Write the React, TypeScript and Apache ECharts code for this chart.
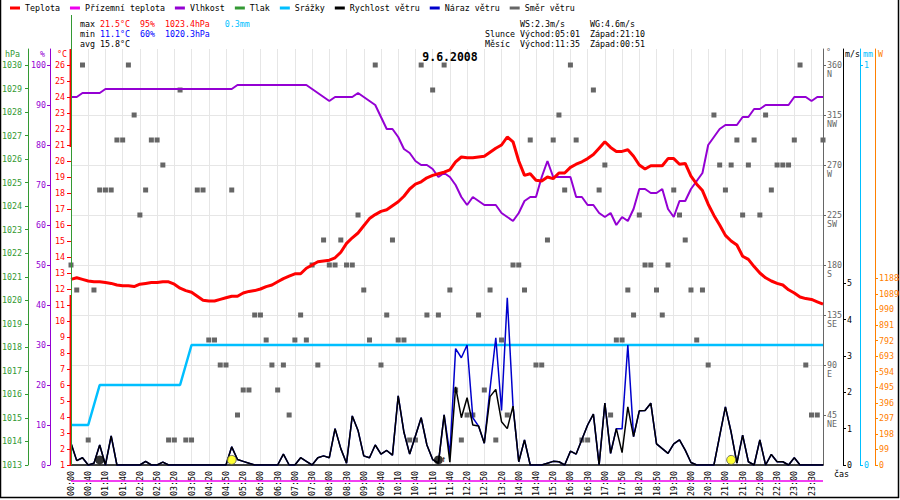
import React, { useEffect, useRef } from "react";
import * as echarts from "echarts";

const FONT = '"DejaVu Sans Mono", monospace';
const FS = 8.3;

const C_TEMP = "#ff0000";
const C_GROUND = "#ee00ee";
const C_HUM = "#9400d3";
const C_PRESS = "#339933";
const C_RAIN = "#00bfff";
const C_WIND = "#000000";
const C_GUST = "#0000cc";
const C_DIR = "#666666";
const C_SOLAR = "#ff8000";
const C_GRID = "#e6e6e6";

const times = [
  "00:00","00:10","00:20","00:40","00:50","01:00","01:10","01:20","01:30","01:40","01:50","02:00",
  "02:20","02:30","02:40","02:50","03:00","03:10","03:20","03:30","03:40","03:50","04:00","04:10",
  "04:20","04:30","04:40","04:50","05:00","05:10","05:20","05:30","05:40","06:00","06:10","06:20",
  "06:30","06:40","06:50","07:00","07:10","07:20","07:30","07:40","07:50","08:00","08:10","08:20",
  "08:30","08:40","08:50","09:00","09:10","09:20","09:40","09:50","10:00","10:10","10:20","10:30",
  "10:40","10:50","11:00","11:10","11:20","11:30","11:40","11:50","12:00","12:20","12:30","12:40",
  "12:50","13:00","13:10","13:20","13:30","13:40","14:00","14:10","14:20","14:40","14:50","15:00",
  "15:20","15:30","15:40","16:00","16:10","16:20","16:30","16:40","16:50","17:00","17:10","17:20",
  "17:50","18:00","18:10","18:20","18:30","18:40","18:50","19:00","19:10","19:30","19:40","19:50",
  "20:00","20:10","20:20","20:30","20:40","20:50","21:00","21:10","21:20","21:30","21:40","21:50",
  "22:00","22:10","22:20","22:30","22:40","22:50","23:00","23:10","23:20","23:30","23:40","23:50"
];

const temperature = [
  12.6, 12.7, 12.6, 12.5, 12.45, 12.45, 12.4, 12.35, 12.25, 12.2,
  12.2, 12.15, 12.3, 12.35, 12.4, 12.4, 12.45, 12.45, 12.3, 12.05,
  11.9, 11.8, 11.55, 11.3, 11.25, 11.25, 11.35, 11.45, 11.55, 11.55,
  11.75, 11.85, 11.9, 12.0, 12.15, 12.25, 12.45, 12.65, 12.8, 12.95,
  12.95, 13.3, 13.5, 13.7, 13.75, 13.8, 13.95, 14.3, 14.85, 15.2,
  15.5, 15.95, 16.4, 16.65, 16.85, 16.95, 17.2, 17.45, 17.8, 18.25,
  18.55, 18.7, 18.95, 19.1, 19.2, 19.3, 19.45, 19.95, 20.25, 20.2,
  20.2, 20.25, 20.3, 20.55, 20.8, 21.0, 21.5, 21.2, 20.0, 19.1,
  19.2, 18.8, 18.75, 19.0, 18.9, 19.25, 19.25, 19.6, 19.8, 19.95,
  20.15, 20.4, 20.8, 21.2, 20.85, 20.6, 20.6, 20.7, 20.3, 19.75,
  19.5, 19.7, 19.7, 19.7, 20.15, 20.15, 19.8, 19.85, 19.05, 18.55,
  18.15, 17.3, 16.6, 16.0, 15.35, 15.0, 14.75, 14.05, 13.85, 13.4,
  13.0, 12.7, 12.5, 12.35, 12.25, 11.95, 11.75, 11.5, 11.4, 11.35,
  11.2, 11.05
];

const groundTemp = [
  0, 0, 0, 0, 0, 0, 0, 0, 0, 0, 0, 0, 0, 0, 0, 0, 0, 0, 0, 0, 0, 0,
  0, 0, 0, 0, 0, 0, 0, 0, 0, 0, 0, 0, 0, 0, 0, 0, 0, 0, 0, 0, 0, 0,
  0, 0, 0, 0, 0, 0, 0, 0, 0, 0, 0, 0, 0, 0, 0, 0, 0, 0, 0, 0, 0, 0,
  0, 0, 0, 0, 0, 0, 0, 0, 0, 0, 0, 0, 0, 0, 0, 0, 0, 0, 0, 0, 0, 0,
  0, 0, 0, 0, 0, 0, 0, 0, 0, 0, 0, 0, 0, 0, 0, 0, 0, 0, 0, 0, 0, 0,
  0, 0, 0, 0, 0, 0, 0, 0, 0, 0, 0, 0, 0, 0, 0, 0, 0, 0, 0, 0, 0, 0
];

const humidity = [
  92, 92, 93, 93, 93, 93, 94, 94, 94, 94,
  94, 94, 94, 94, 94, 94, 94, 94, 94, 94,
  94, 94, 94, 94, 94, 94, 94, 94, 94, 95,
  95, 95, 95, 95, 95, 95, 95, 95, 95, 95,
  95, 95, 94, 93, 92, 91, 92, 92, 92, 92,
  93, 92, 91, 90, 87, 84, 84, 82, 79, 78,
  76, 75, 75, 74, 72, 73, 72, 70, 67, 65,
  67, 66, 65, 65, 65, 63, 62, 61, 63, 66,
  67, 67, 72, 76, 72, 72, 72, 72, 67, 67,
  65, 65, 63, 62, 63, 60, 62, 61, 64, 69,
  69, 68, 68, 69, 64, 62, 66, 66, 69, 71,
  73, 80, 82, 84, 85, 85, 85, 87, 87, 89,
  89, 90, 90, 90, 90, 90, 92, 92, 92, 91,
  92, 92
];

const pressure: number[] = [];

const rainfall = [
  0.1, 0.1, 0.1, 0.1, 0.15, 0.2, 0.2, 0.2, 0.2, 0.2,
  0.2, 0.2, 0.2, 0.2, 0.2, 0.2, 0.2, 0.2, 0.2, 0.2,
  0.25, 0.3, 0.3, 0.3, 0.3, 0.3, 0.3, 0.3, 0.3, 0.3,
  0.3, 0.3, 0.3, 0.3, 0.3, 0.3, 0.3, 0.3, 0.3, 0.3,
  0.3, 0.3, 0.3, 0.3, 0.3, 0.3, 0.3, 0.3, 0.3, 0.3,
  0.3, 0.3, 0.3, 0.3, 0.3, 0.3, 0.3, 0.3, 0.3, 0.3,
  0.3, 0.3, 0.3, 0.3, 0.3, 0.3, 0.3, 0.3, 0.3, 0.3,
  0.3, 0.3, 0.3, 0.3, 0.3, 0.3, 0.3, 0.3, 0.3, 0.3,
  0.3, 0.3, 0.3, 0.3, 0.3, 0.3, 0.3, 0.3, 0.3, 0.3,
  0.3, 0.3, 0.3, 0.3, 0.3, 0.3, 0.3, 0.3, 0.3, 0.3,
  0.3, 0.3, 0.3, 0.3, 0.3, 0.3, 0.3, 0.3, 0.3, 0.3,
  0.3, 0.3, 0.3, 0.3, 0.3, 0.3, 0.3, 0.3, 0.3, 0.3,
  0.3, 0.3, 0.3, 0.3, 0.3, 0.3, 0.3, 0.3, 0.3, 0.3,
  0.3, 0.3
];

const windSpeed = [
  0.6, 0.12, 0.2, 0, 0.05, 0.55, 0, 0.8, 0, 0,
  0, 0, 0, 0.1, 0, 0, 0.08, 0, 0, 0,
  0, 0, 0, 0, 0, 0, 0, 0, 0.5, 0.15,
  0.1, 0.05, 0, 0, 0, 0, 0, 0.3, 0, 0,
  0.2, 0.1, 0, 0.2, 0.25, 0.2, 1.0, 0.45, 0.05, 1.35,
  0.95, 0.25, 0.2, 0.55, 0.3, 0.4, 0.27, 1.9, 0.9, 0.3,
  0.8, 1.3, 0.55, 0.15, 0.05, 1.38, 0.08, 2.15, 1.3, 1.85,
  1.1, 1.07, 0.6, 1.88, 2.08, 1.19, 1.0, 1.62, 0.09, 0.69,
  0, 0, 0, 0.05, 0.1, 0.09, 0, 0.38, 0.3, 0.7,
  1.1, 1.4, 0, 1.7, 0.32, 1.0, 0.34, 1.6, 0.78, 1.49,
  1.5, 1.7, 0.58, 0.45, 0.32, 0.58, 0.69, 0.41, 0.07, 0,
  0, 0, 0, 0.8, 1.6, 0.9, 0.05, 0.82, 0.09, 0,
  0.69, 0, 0.29, 0.09, 0.09, 0, 0.2, 0, 0, 0,
  0, 0
];

const windGust = [
  0.6, 0.12, 0.2, 0, 0.05, 0.55, 0, 0.8, 0, 0,
  0, 0, 0, 0.1, 0, 0, 0.08, 0, 0, 0,
  0, 0, 0, 0, 0, 0, 0, 0, 0.5, 0.15,
  0.1, 0.05, 0, 0, 0, 0, 0, 0.3, 0, 0,
  0.2, 0.1, 0, 0.2, 0.25, 0.2, 1.0, 0.45, 0.05, 1.35,
  0.95, 0.25, 0.2, 0.55, 0.3, 0.4, 0.27, 1.9, 0.9, 0.3,
  0.8, 1.3, 0.55, 0.15, 0.05, 1.38, 0.3, 3.2, 2.95, 3.3,
  1.3, 1.07, 0.6, 2.1, 3.5, 1.5, 4.6, 1.62, 0.09, 0.69,
  0, 0, 0, 0.05, 0.1, 0.09, 0, 0.38, 0.3, 0.7,
  1.1, 1.4, 0, 1.7, 0.32, 1.0, 1.0, 3.3, 0.78, 1.49,
  1.5, 1.7, 0.58, 0.45, 0.32, 0.58, 0.69, 0.41, 0.07, 0,
  0, 0, 0, 0.8, 1.6, 0.9, 0.05, 0.82, 0.09, 0,
  0.69, 0, 0.29, 0.09, 0.09, 0, 0.2, 0, 0, 0,
  0, 0
];

const windDir = [
  180, 157.5, 360, 22.5, 157.5, 247.5, 247.5, 247.5, 292.5, 292.5,
  360, 315, 225, 247.5, 292.5, 292.5, 270, 22.5, 22.5, 337.5,
  22.5, 22.5, 247.5, 247.5, 112.5, 112.5, 90, 90, 247.5, 45,
  67.5, 67.5, 135, 135, 112.5, 90, 67.5, 90, 45, 112.5,
  135, 112.5, 180, 90, 202.5, 180, 180, 202.5, 180, 180,
  225, 157.5, 112.5, 360, 90, 135, 202.5, 112.5, 112.5, 22.5,
  22.5, 360, 135, 337.5, 135, 360, 157.5, 67.5, 22.5, 45,
  45, 135, 67.5, 157.5, 22.5, 112.5, 45, 180, 180, 157.5,
  292.5, 90, 90, 202.5, 292.5, 315, 247.5, 360, 292.5, 22.5,
  22.5, 337.5, 247.5, 270, 45, 112.5, 112.5, 157.5, 135, 225,
  180, 180, 157.5, 135, 180, 247.5, 225, 202.5, 157.5, 112.5,
  157.5, 90, 315, 270, 247.5, 270, 292.5, 225, 270, 292.5,
  225, 315, 247.5, 270, 270, 270, 292.5, 360, 90, 45,
  45, 292.5
];

// sun / moon events: [category index, marker height in m/s]
const sunEvents = [[28, 0.14], [115, 0.14]];
const moonEvents = [[4.5, 0.14], [64, 0.14]];

const tempTicks = [1, 2, 3, 4, 5, 6, 7, 8, 9, 10, 11, 12, 13, 14, 15, 16, 17, 18, 19, 20, 21, 22, 23, 24, 25, 26];
const humTicks = [0, 10, 20, 30, 40, 50, 60, 70, 80, 90, 100];
const hpaTicks = [1013, 1014, 1015, 1016, 1017, 1018, 1019, 1020, 1021, 1022, 1023, 1024, 1025, 1026, 1027, 1028, 1029, 1030];
const dirTicks = [45, 90, 135, 180, 225, 270, 315, 360];
const dirNames: Record<number, string> = { 45: "NE", 90: "E", 135: "SE", 180: "S", 225: "SW", 270: "W", 315: "NW", 360: "N" };
const msTicks = [0, 1, 2, 3, 4, 5];
const mmTicks = [0, 1];
const wTicks = [0, 99, 198, 297, 396, 495, 594, 693, 792, 891, 990, 1089, 1188];

const legendNames = ["Teplota", "Přízemní teplota", "Vlhkost", "Tlak", "Srážky", "Rychlost větru", "Náraz větru", "Směr větru"];

const statsMax = ["21.5°C", "95%", "1023.4hPa", "0.3mm"];
const statsMin = ["11.1°C", "60%", "1020.3hPa"];
const statsAvg = "15.8°C";
const windStats = ["WS:2.3m/s", "WG:4.6m/s"];
const sunTimes = ["Východ:05:01", "Západ:21:10"];
const moonTimes = ["Východ:11:35", "Západ:00:51"];

const txt = (fill: string) => ({ fill, fontFamily: FONT, fontSize: FS });

function valueAxis(opts: any) {
  const { color, ticks, fmt, position, offset, min, max, interval, lineShow = true, tickLen = 3, margin = 4, split } = opts;
  return {
    type: "value",
    position,
    offset,
    min,
    max,
    interval,
    axisLine: { show: lineShow, onZero: false, lineStyle: { color, width: 1 } },
    axisTick: { show: true, length: tickLen, customValues: ticks, lineStyle: { color } },
    axisLabel: {
      show: true,
      customValues: ticks,
      color,
      fontFamily: FONT,
      fontSize: FS,
      margin,
      lineHeight: opts.lineHeight,
      formatter: fmt || ((v: number) => (ticks.indexOf(v) >= 0 ? String(v) : "")),
    },
    splitLine: split || { show: false },
  };
}

export default function App() {
  const ref = useRef<HTMLDivElement>(null);

  useEffect(() => {
    document.body.style.margin = "0";
    if (!ref.current) return;
    const chart = echarts.init(ref.current, null, { renderer: "svg" });

    const option: any = {
      animation: false,
      backgroundColor: "#ffffff",
      textStyle: { fontFamily: FONT, fontSize: FS },
      title: {
        text: "9.6.2008",
        left: "center",
        top: 51,
        padding: 0,
        textStyle: { fontFamily: FONT, fontSize: 11.5, fontWeight: "bold", color: "#000" },
      },
      legend: {
        data: legendNames,
        left: 10,
        top: 4,
        padding: 0,
        itemGap: 10,
        itemWidth: 10,
        itemHeight: 3,
        icon: "rect",
        selectedMode: false,
        textStyle: { fontFamily: FONT, fontSize: FS, color: "#000", padding: 0 },
      },
      grid: { left: 71, right: 77, top: 49, bottom: 35, containLabel: false, outerBoundsMode: "none" },
      xAxis: {
        type: "category",
        data: times,
        boundaryGap: false,
        axisLine: { show: true, onZero: false, lineStyle: { color: "#000", width: 1.5 } },
        axisTick: { show: false },
        axisLabel: { interval: 2, rotate: 90, color: "#000", fontFamily: FONT, fontSize: FS, margin: 6 },
        splitLine: { show: true, interval: 2, lineStyle: { color: C_GRID, width: 1 } },
      },
      yAxis: [
        valueAxis({ color: C_TEMP, ticks: tempTicks, position: "left", offset: 0, min: 1, max: 27, interval: 1, lineShow: false, tickLen: 4, margin: 6 }),
        valueAxis({ color: C_HUM, ticks: humTicks, position: "left", offset: 21, min: 0, max: 104, interval: 10 }),
        valueAxis({ color: C_PRESS, ticks: hpaTicks, position: "left", offset: 43, min: 1013, max: 1030.68, interval: 1, margin: 6 }),
        valueAxis({
          color: C_DIR, ticks: dirTicks, position: "right", offset: 0, min: 0, max: 374.4, interval: 45, margin: 4, lineHeight: 9,
          fmt: (v: number) => (dirNames[v] ? " \n" + v + "\n" + dirNames[v] : ""),
          split: { show: true, showMinLine: false, showMaxLine: false, lineStyle: { color: C_GRID, width: 1 } },
        }),
        valueAxis({ color: C_WIND, ticks: msTicks, position: "right", offset: 20, min: 0, max: 11.44, interval: 1 }),
        valueAxis({ color: C_RAIN, ticks: mmTicks, position: "right", offset: 37, min: 0, max: 1.04, interval: 0.5 }),
        valueAxis({ color: C_SOLAR, ticks: wTicks, position: "right", offset: 52, min: 0, max: 2647, interval: 99 }),
      ],
      series: [
        {
          name: "Přízemní teplota", type: "line", yAxisIndex: 0, data: groundTemp, clip: false,
          showSymbol: false, symbol: "none", color: C_GROUND, lineStyle: { color: C_GROUND, width: 1.5 }, z: 2,
        },
        {
          name: "Srážky", type: "line", yAxisIndex: 5, data: rainfall, symbol: "none",
          color: C_RAIN, lineStyle: { color: C_RAIN, width: 2.5 }, z: 3,
        },
        {
          name: "Směr větru", type: "scatter", yAxisIndex: 3, data: windDir, symbol: "rect", symbolSize: 5,
          color: C_DIR, itemStyle: { color: C_DIR, opacity: 1 }, z: 4,
        },
        { name: "Tlak", type: "line", yAxisIndex: 2, data: pressure, symbol: "none", color: C_PRESS, lineStyle: { color: C_PRESS } },
        {
          name: "Vlhkost", type: "line", yAxisIndex: 1, data: humidity, symbol: "none",
          color: C_HUM, lineStyle: { color: C_HUM, width: 2 }, z: 5,
        },
        {
          name: "Teplota", type: "line", yAxisIndex: 0, data: temperature, symbol: "none",
          color: C_TEMP, lineStyle: { color: C_TEMP, width: 3 }, z: 6,
        },
        {
          name: "Náraz větru", type: "line", yAxisIndex: 4, data: windGust, symbol: "none",
          color: C_GUST, lineStyle: { color: C_GUST, width: 1.5 }, z: 7,
        },
        {
          name: "Rychlost větru", type: "line", yAxisIndex: 4, data: windSpeed, symbol: "none",
          color: C_WIND, lineStyle: { color: C_WIND, width: 1.5 }, z: 8,
        },
        {
          name: "Slunce", type: "scatter", yAxisIndex: 4, data: sunEvents, symbol: "circle", symbolSize: 9,
          itemStyle: { color: "#ffff00", borderColor: "#555", borderWidth: 1 }, z: 9,
        },
        {
          name: "Měsíc", type: "scatter", yAxisIndex: 4, data: moonEvents, symbol: "circle", symbolSize: 9,
          itemStyle: { color: "#000000" }, z: 9,
        },
      ],
      graphic: [
        // frame
        { type: "line", shape: { x1: 0.5, y1: 0, x2: 0.5, y2: 498 }, style: { stroke: "#000", lineWidth: 1.5 }, silent: true },
        { type: "line", shape: { x1: 898.5, y1: 0, x2: 898.5, y2: 498 }, style: { stroke: "#000", lineWidth: 1.5 }, silent: true },
        { type: "line", shape: { x1: 0, y1: 497.5, x2: 899, y2: 497.5 }, style: { stroke: "#000", lineWidth: 1.5 }, silent: true },
        // left plot border
        { type: "line", shape: { x1: 71.5, y1: 15, x2: 71.5, y2: 465 }, style: { stroke: C_PRESS, lineWidth: 1 }, silent: true, z: 10 },
        { type: "line", shape: { x1: 70.3, y1: 49, x2: 70.3, y2: 147 }, style: { stroke: C_TEMP, lineWidth: 1.5 }, silent: true, z: 11 },
        { type: "line", shape: { x1: 70.3, y1: 295, x2: 70.3, y2: 465 }, style: { stroke: C_TEMP, lineWidth: 1.5 }, silent: true, z: 11 },
        // axis titles
        { type: "text", x: 5, y: 54, style: { text: "hPa", ...txt(C_PRESS), verticalAlign: "middle" } },
        { type: "text", x: 40, y: 54, style: { text: "%", ...txt(C_HUM), verticalAlign: "middle" } },
        { type: "text", x: 57, y: 54, style: { text: "°C", ...txt(C_TEMP), verticalAlign: "middle" } },
        { type: "text", x: 826, y: 52, style: { text: "°", ...txt(C_DIR), verticalAlign: "middle" } },
        { type: "text", x: 845, y: 54, style: { text: "m/s", ...txt(C_WIND), verticalAlign: "middle" } },
        { type: "text", x: 863, y: 54, style: { text: "mm", ...txt(C_RAIN), verticalAlign: "middle" } },
        { type: "text", x: 878, y: 54, style: { text: "W", ...txt(C_SOLAR), verticalAlign: "middle" } },
        { type: "text", x: 834, y: 474, style: { text: "čas", ...txt("#000"), verticalAlign: "middle" } },
        { type: "text", x: 441, y: 459, style: { text: "↑", ...txt("#000"), fontSize: 9, verticalAlign: "middle" } },
        // stats
        {
          type: "text", x: 80, y: 24,
          style: {
            text: "{k|max }{r|" + statsMax[0] + "}{k|  }{r|" + statsMax[1] + "}{k|  }{r|" + statsMax[2] + "}{k|   }{c|" + statsMax[3] + "}",
            ...txt("#000"), verticalAlign: "middle",
            rich: { k: txt("#000"), r: txt("#ff0000"), c: txt(C_RAIN) },
          },
        },
        {
          type: "text", x: 80, y: 34,
          style: {
            text: "{k|min }{b|" + statsMin[0] + "}{k|  }{b|" + statsMin[1] + "}{k|  }{b|" + statsMin[2] + "}",
            ...txt("#000"), verticalAlign: "middle",
            rich: { k: txt("#000"), b: txt("#0000ff") },
          },
        },
        { type: "text", x: 80, y: 44, style: { text: "avg " + statsAvg, ...txt("#000"), verticalAlign: "middle" } },
        { type: "text", x: 520, y: 24, style: { text: windStats[0], ...txt("#000"), verticalAlign: "middle" } },
        { type: "text", x: 590, y: 24, style: { text: windStats[1], ...txt("#000"), verticalAlign: "middle" } },
        { type: "text", x: 485, y: 34, style: { text: "Slunce", ...txt("#000"), verticalAlign: "middle" } },
        { type: "text", x: 520, y: 34, style: { text: sunTimes[0], ...txt("#000"), verticalAlign: "middle" } },
        { type: "text", x: 590, y: 34, style: { text: sunTimes[1], ...txt("#000"), verticalAlign: "middle" } },
        { type: "text", x: 485, y: 44, style: { text: "Měsíc", ...txt("#000"), verticalAlign: "middle" } },
        { type: "text", x: 520, y: 44, style: { text: moonTimes[0], ...txt("#000"), verticalAlign: "middle" } },
        { type: "text", x: 590, y: 44, style: { text: moonTimes[1], ...txt("#000"), verticalAlign: "middle" } },
      ],
    };

    chart.setOption(option);
    return () => chart.dispose();
  }, []);

  return <div ref={ref} style={{ width: 900, height: 500 }} />;
}
